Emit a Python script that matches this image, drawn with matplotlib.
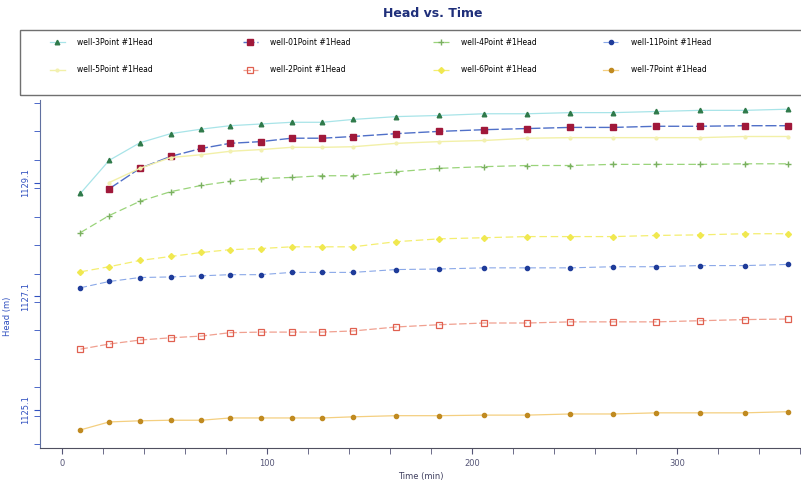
import matplotlib.pyplot as plt
from matplotlib.patches import Rectangle
from matplotlib.ticker import FixedLocator, MultipleLocator

# time values
time = [9, 23, 38, 53, 68, 82, 97, 112, 127, 142,
        163, 184, 206, 227, 248, 269, 290, 311, 333, 354]

well3 = [1128.91, 1129.49, 1129.80, 1129.96, 1130.04, 1130.10, 1130.13, 1130.16, 1130.16, 1130.21,
         1130.26, 1130.28, 1130.31, 1130.31, 1130.33, 1130.33, 1130.35, 1130.37, 1130.37, 1130.39]
well01 = [1128.99, 1129.35, 1129.56, 1129.70, 1129.79, 1129.82, 1129.88, 1129.88, 1129.91,
          1129.96, 1130.00, 1130.03, 1130.05, 1130.07, 1130.07, 1130.09, 1130.09, 1130.10, 1130.10]
well4 = [1128.22, 1128.52, 1128.77, 1128.94, 1129.05, 1129.12, 1129.17, 1129.19, 1129.22, 1129.22,
         1129.29, 1129.35, 1129.38, 1129.40, 1129.40, 1129.42, 1129.42, 1129.42, 1129.43, 1129.43]
well11 = [1127.25, 1127.36, 1127.43, 1127.44, 1127.46, 1127.48, 1127.48, 1127.52, 1127.52, 1127.52,
          1127.57, 1127.58, 1127.60, 1127.60, 1127.60, 1127.62, 1127.62, 1127.64, 1127.64, 1127.66]
well5 = [1129.10, 1129.35, 1129.54, 1129.59, 1129.65, 1129.68, 1129.72, 1129.72, 1129.73,
         1129.79, 1129.82, 1129.84, 1129.88, 1129.89, 1129.89, 1129.89, 1129.89, 1129.91, 1129.91]
well6 = [1127.53, 1127.62, 1127.73, 1127.80, 1127.87, 1127.92, 1127.94, 1127.97, 1127.97, 1127.97,
         1128.06, 1128.11, 1128.13, 1128.15, 1128.15, 1128.15, 1128.17, 1128.18, 1128.20, 1128.20]
well2 = [1126.17, 1126.26, 1126.33, 1126.37, 1126.40, 1126.46, 1126.47, 1126.47, 1126.47, 1126.49,
         1126.56, 1126.60, 1126.63, 1126.63, 1126.65, 1126.65, 1126.65, 1126.67, 1126.69, 1126.70]
well7 = [1124.75, 1124.89, 1124.91, 1124.92, 1124.92, 1124.96, 1124.96, 1124.96, 1124.96, 1124.98,
         1125.00, 1125.00, 1125.01, 1125.01, 1125.03, 1125.03, 1125.05, 1125.05, 1125.05, 1125.07]

x_ticks = [0, 100, 200, 300]
y_ticks = [1125.1, 1127.1, 1129.1]

fig = plt.figure(figsize=(8.01, 4.86), dpi=100)
ax = fig.add_axes([0.05, 0.078, 0.95, 0.716])

h3, = ax.plot(time, well3, color="#a8e4e8", lw=0.9, marker="^", ms=3.3,
              mfc="#2f7a4a", mec="#2f7a4a", label="well-3Point #1Head")
h01, = ax.plot(time[1:], well01, color="#5070c8", lw=1.0, ls=(0, (8, 2)), marker="s", ms=5,
               mfc="#a0183a", mec="#a0183a", label="well-01Point #1Head")
h4, = ax.plot(time, well4, color="#9ad47a", lw=0.9, ls=(0, (6, 3)), marker="+", ms=4,
              mec="#7ab060", label="well-4Point #1Head")
h11, = ax.plot(time, well11, color="#8aa8e8", lw=0.8, ls=(0, (6, 3)), marker="o", ms=3,
               mfc="#1f3c9a", mec="#1f3c9a", label="well-11Point #1Head")
h5, = ax.plot(time[1:], well5, color="#f2f0a8", lw=1.0, marker="o", ms=2,
              mfc="#f2f0b0", mec="#f2f0b0", label="well-5Point #1Head")
h2, = ax.plot(time, well2, color="#f0a090", lw=0.9, ls=(0, (6, 2)), marker="s", ms=4.3,
              mfc="none", mec="#e06050", mew=0.9, label="well-2Point #1Head")
h6, = ax.plot(time, well6, color="#f4ee70", lw=0.9, ls=(0, (6, 3)), marker="D", ms=3,
              mfc="#f0e850", mec="#f0e850", label="well-6Point #1Head")
h7, = ax.plot(time, well7, color="#f4cf80", lw=0.9, marker="o", ms=3,
              mfc="#c08a20", mec="#c08a20", label="well-7Point #1Head")

ax.set_xlim(-10.7, 360.5)
ax.set_ylim(1124.43, 1130.55)

ax.xaxis.set_major_locator(FixedLocator(x_ticks))
ax.xaxis.set_minor_locator(MultipleLocator(20))
ax.yaxis.set_major_locator(FixedLocator(y_ticks))
ax.yaxis.set_minor_locator(MultipleLocator(0.5))
ax.tick_params(axis="x", which="both", direction="out", labelsize=6, colors="#555577", length=4)
ax.tick_params(axis="y", which="both", direction="out", labelsize=6, colors="#3050c0", length=4,
               labelrotation=90)
for lbl in ax.get_yticklabels():
    lbl.set_va("center")

ax.spines["top"].set_visible(False)
ax.spines["right"].set_visible(False)
ax.spines["left"].set_color("#6070a0")
ax.spines["bottom"].set_color("#505060")

ax.set_xlabel("Time (min)", fontsize=6, color="#404060", labelpad=3)
ax.set_ylabel("Head (m)", fontsize=6, color="#3050c0")
ax.yaxis.set_label_coords(-0.037, 0.38)

fig.suptitle("Head vs. Time", x=0.54, y=0.985, fontsize=9, fontweight="bold", color="#1f2f7a")

# legend box spanning the top, cut by the right edge
fig.patches.append(Rectangle((0.025, 0.805), 1.0, 0.134, transform=fig.transFigure,
                             fill=False, edgecolor="#707070", lw=1.0))

columns = [(h3, h5), (h01, h2), (h4, h6), (h11, h7)]
col_x = [0.062, 0.303, 0.541, 0.753]
for x0, pair in zip(col_x, columns):
    fig.legend(handles=list(pair), labels=[h.get_label() for h in pair],
               loc="upper left", bbox_to_anchor=(x0, 0.922), frameon=False,
               fontsize=5.5, handlelength=2, handletextpad=1.6, borderpad=0,
               borderaxespad=0, labelspacing=2.4)

fig.savefig("out.png", dpi=100)
